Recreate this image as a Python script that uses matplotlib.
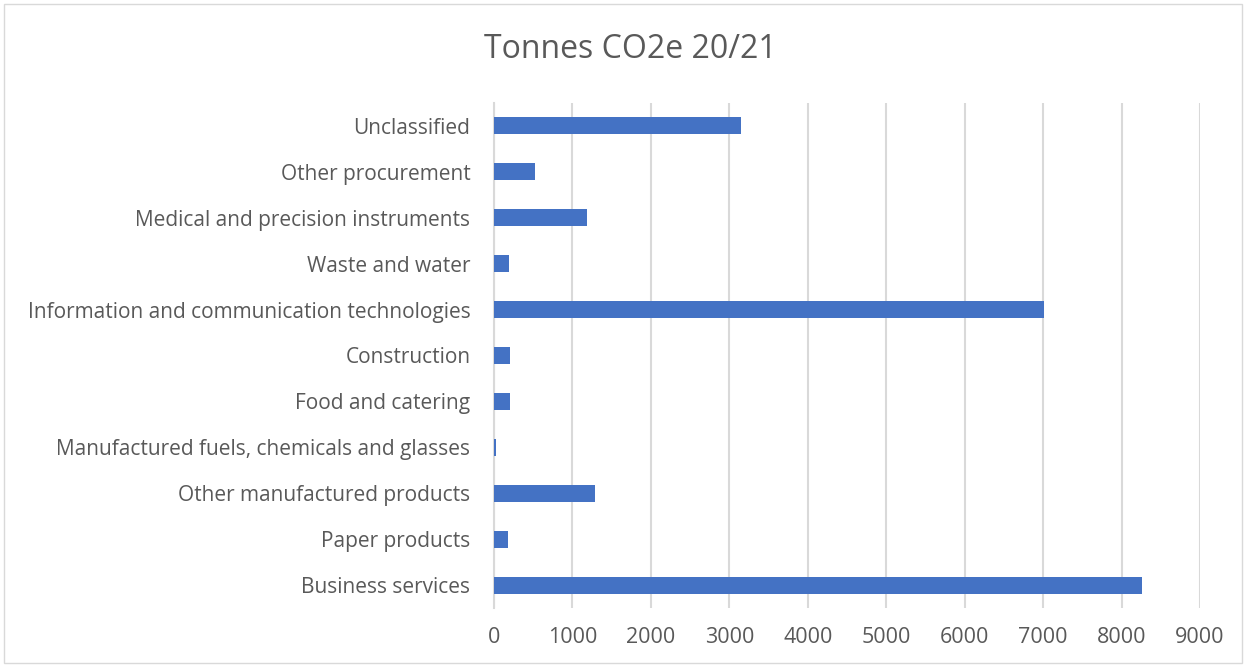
import matplotlib.pyplot as plt
from matplotlib.patches import Rectangle

plt.rcParams['font.family'] = ['Open Sans', 'DejaVu Sans']

# categories listed bottom to top, as drawn
categories = [
    "Business services",
    "Paper products",
    "Other manufactured products",
    "Manufactured fuels, chemicals and glasses",
    "Food and catering",
    "Construction",
    "Information and communication technologies",
    "Waste and water",
    "Medical and precision instruments",
    "Other procurement",
    "Unclassified",
]
tonnes = [8260, 180, 1290, 25, 205, 205, 7010, 190, 1190, 520, 3150]
xticks = [0, 1000, 2000, 3000, 4000, 5000, 6000, 7000, 8000, 9000]

BAR_COLOR = "#4472C4"
TEXT_COLOR = "#595959"
GRID_COLOR = "#d9d9d9"

fig = plt.figure(figsize=(12.45, 6.65), dpi=100)
ax = fig.add_axes([494 / 1245, 1 - 608 / 665, (1200 - 494) / 1245, (608 - 103) / 665])

ax.barh(range(len(categories)), tonnes, height=0.37, color=BAR_COLOR, zorder=3)
ax.set_xlim(0, 9000)
ax.set_ylim(-0.5, len(categories) - 0.5)
ax.set_xticks(xticks)
ax.set_xticklabels([str(t) for t in xticks], fontsize=15.5)
ax.set_yticks(range(len(categories)))
ax.set_yticklabels(categories, fontsize=15)
ax.tick_params(axis='both', length=0, colors=TEXT_COLOR)
ax.tick_params(axis='x', pad=14)
ax.tick_params(axis='y', pad=17)
ax.xaxis.grid(True, color=GRID_COLOR, linewidth=1.5, zorder=0)
for s in ['top', 'right', 'bottom']:
    ax.spines[s].set_visible(False)
ax.spines['left'].set_color(GRID_COLOR)
ax.spines['left'].set_linewidth(1.5)

fig.text(630 / 1245, 1 - 49 / 665, "Tonnes CO2e 20/21", ha='center', va='center',
         fontsize=23, color=TEXT_COLOR)

# chart area border
fig.patches.append(Rectangle((4 / 1245, 2 / 665), 1238 / 1245, 659 / 665,
                             transform=fig.transFigure, fill=False,
                             edgecolor=GRID_COLOR, linewidth=1))

fig.savefig("out.png", dpi=100)
